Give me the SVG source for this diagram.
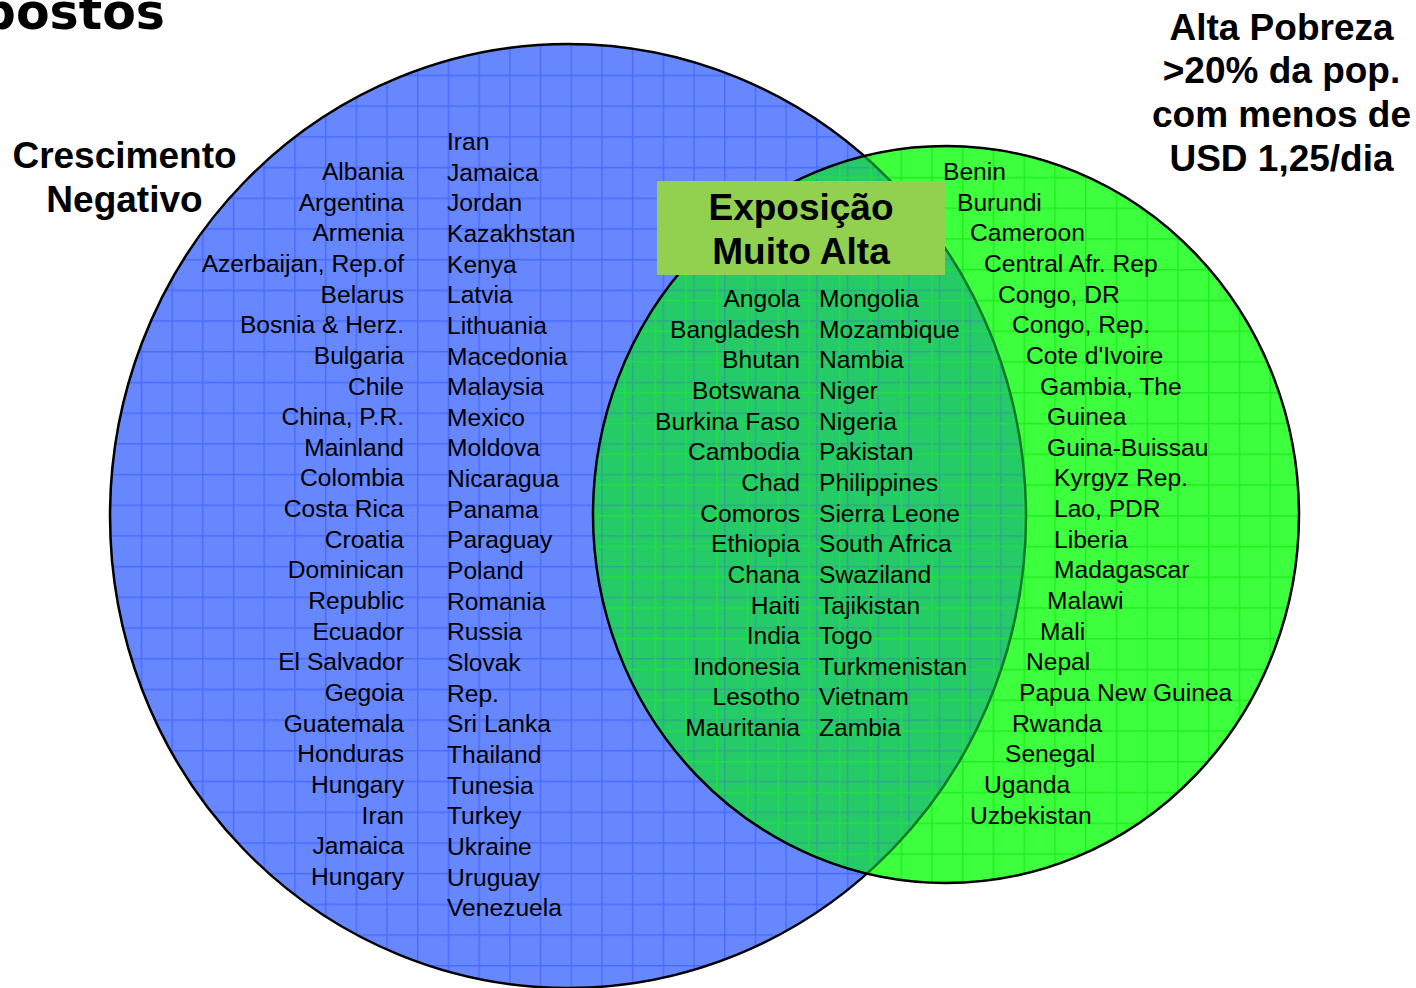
<svg xmlns="http://www.w3.org/2000/svg" width="1416" height="988" viewBox="0 0 1416 988">
<style>
.c{font-family:"Liberation Sans",Arial,sans-serif;font-size:24.6px;fill:#000}
.t{font-family:"Liberation Sans",Arial,sans-serif;font-size:37px;font-weight:bold;fill:#000;text-anchor:middle}
.e{text-anchor:end}
</style>
<defs>
<pattern id="gridB" patternUnits="userSpaceOnUse" x="110" y="44" width="30.7" height="30.7">
<rect width="30.7" height="30.7" fill="#6787FF"/>
<path d="M0 0.7H30.7M0.7 0V30.7" stroke="#4A6BFF" stroke-width="1.5"/>
</pattern>
<pattern id="gridG" patternUnits="userSpaceOnUse" x="593" y="146" width="30.75" height="30.75">
<rect width="30.75" height="30.75" fill="#3DFF3D"/>
<path d="M0 0.7H30.75M0.7 0V30.75" stroke="#1EEE1E" stroke-width="1.5"/>
</pattern>
<pattern id="linesBi" patternUnits="userSpaceOnUse" x="110" y="44" width="30.7" height="30.7">
<path d="M0 0.7H30.7M0.7 0V30.7" stroke="#2FA88A" stroke-width="1.5"/>
</pattern>
<pattern id="linesGi" patternUnits="userSpaceOnUse" x="593" y="146" width="30.75" height="30.75">
<path d="M0 0.7H30.75M0.7 0V30.75" stroke="#22E040" stroke-width="1.5"/>
</pattern>
<clipPath id="clipBlue"><ellipse cx="568" cy="516" rx="458" ry="472"/></clipPath>
<clipPath id="clipGreen"><ellipse cx="946" cy="514.5" rx="353" ry="368.5"/></clipPath>
</defs>
<rect width="1416" height="988" fill="#fff"/>
<text x="165" y="29" style="font-family:'DejaVu Sans',Verdana,sans-serif;font-weight:bold;font-size:49px" text-anchor="end">postos</text>
<g id="set-crescimento-negativo">
<ellipse cx="568" cy="516" rx="458" ry="472" fill="url(#gridB)" stroke="#000" stroke-width="2.5"/>
</g>
<g id="set-alta-pobreza">
<ellipse cx="946" cy="514.5" rx="353" ry="368.5" fill="url(#gridG)"/>
</g>
<g id="intersection">
<g clip-path="url(#clipBlue)">
<ellipse cx="946" cy="514.5" rx="353" ry="368.5" fill="#25CB66"/>
<ellipse cx="946" cy="514.5" rx="353" ry="368.5" fill="url(#linesBi)"/>
<ellipse cx="946" cy="514.5" rx="353" ry="368.5" fill="url(#linesGi)"/>
</g>
<g clip-path="url(#clipGreen)">
<ellipse cx="568" cy="516" rx="458" ry="472" fill="none" stroke="#0E7A22" stroke-width="2.5"/>
</g>
<ellipse cx="946" cy="514.5" rx="353" ry="368.5" fill="none" stroke="#000" stroke-width="2.5"/>
</g>
<g id="label-crescimento">
<text class="t" x="124.5" y="168">Crescimento</text>
<text class="t" x="124.5" y="212">Negativo</text>
</g>
<g id="label-pobreza">
<text class="t" x="1281.5" y="39.5">Alta Pobreza</text>
<text class="t" x="1281.5" y="83.2">&gt;20% da pop.</text>
<text class="t" x="1281.5" y="126.9">com menos de</text>
<text class="t" x="1281.5" y="170.6">USD 1,25/dia</text>
</g>
<g id="list-negativo-left">
<text class="c e" x="404" y="180"><tspan x="404">Albania</tspan><tspan x="404" dy="30.65">Argentina</tspan><tspan x="404" dy="30.65">Armenia</tspan><tspan x="404" dy="30.65">Azerbaijan, Rep.of</tspan><tspan x="404" dy="30.65">Belarus</tspan><tspan x="404" dy="30.65">Bosnia &amp; Herz.</tspan><tspan x="404" dy="30.65">Bulgaria</tspan><tspan x="404" dy="30.65">Chile</tspan><tspan x="404" dy="30.65">China, P.R.</tspan><tspan x="404" dy="30.65">Mainland</tspan><tspan x="404" dy="30.65">Colombia</tspan><tspan x="404" dy="30.65">Costa Rica</tspan><tspan x="404" dy="30.65">Croatia</tspan><tspan x="404" dy="30.65">Dominican</tspan><tspan x="404" dy="30.65">Republic</tspan><tspan x="404" dy="30.65">Ecuador</tspan><tspan x="404" dy="30.65">El Salvador</tspan><tspan x="404" dy="30.65">Gegoia</tspan><tspan x="404" dy="30.65">Guatemala</tspan><tspan x="404" dy="30.65">Honduras</tspan><tspan x="404" dy="30.65">Hungary</tspan><tspan x="404" dy="30.65">Iran</tspan><tspan x="404" dy="30.65">Jamaica</tspan><tspan x="404" dy="30.65">Hungary</tspan></text>
</g>
<g id="list-negativo-right">
<text class="c" x="447" y="150"><tspan x="447">Iran</tspan><tspan x="447" dy="30.65">Jamaica</tspan><tspan x="447" dy="30.65">Jordan</tspan><tspan x="447" dy="30.65">Kazakhstan</tspan><tspan x="447" dy="30.65">Kenya</tspan><tspan x="447" dy="30.65">Latvia</tspan><tspan x="447" dy="30.65">Lithuania</tspan><tspan x="447" dy="30.65">Macedonia</tspan><tspan x="447" dy="30.65">Malaysia</tspan><tspan x="447" dy="30.65">Mexico</tspan><tspan x="447" dy="30.65">Moldova</tspan><tspan x="447" dy="30.65">Nicaragua</tspan><tspan x="447" dy="30.65">Panama</tspan><tspan x="447" dy="30.65">Paraguay</tspan><tspan x="447" dy="30.65">Poland</tspan><tspan x="447" dy="30.65">Romania</tspan><tspan x="447" dy="30.65">Russia</tspan><tspan x="447" dy="30.65">Slovak</tspan><tspan x="447" dy="30.65">Rep.</tspan><tspan x="447" dy="30.65">Sri Lanka</tspan><tspan x="447" dy="30.65">Thailand</tspan><tspan x="447" dy="30.65">Tunesia</tspan><tspan x="447" dy="30.65">Turkey</tspan><tspan x="447" dy="30.65">Ukraine</tspan><tspan x="447" dy="30.65">Uruguay</tspan><tspan x="447" dy="30.65">Venezuela</tspan></text>
</g>
<g id="list-intersection-left">
<text class="c e" x="800" y="307"><tspan x="800">Angola</tspan><tspan x="800" dy="30.65">Bangladesh</tspan><tspan x="800" dy="30.65">Bhutan</tspan><tspan x="800" dy="30.65">Botswana</tspan><tspan x="800" dy="30.65">Burkina Faso</tspan><tspan x="800" dy="30.65">Cambodia</tspan><tspan x="800" dy="30.65">Chad</tspan><tspan x="800" dy="30.65">Comoros</tspan><tspan x="800" dy="30.65">Ethiopia</tspan><tspan x="800" dy="30.65">Chana</tspan><tspan x="800" dy="30.65">Haiti</tspan><tspan x="800" dy="30.65">India</tspan><tspan x="800" dy="30.65">Indonesia</tspan><tspan x="800" dy="30.65">Lesotho</tspan><tspan x="800" dy="30.65">Mauritania</tspan></text>
</g>
<g id="list-intersection-right">
<text class="c" x="819" y="307"><tspan x="819">Mongolia</tspan><tspan x="819" dy="30.65">Mozambique</tspan><tspan x="819" dy="30.65">Nambia</tspan><tspan x="819" dy="30.65">Niger</tspan><tspan x="819" dy="30.65">Nigeria</tspan><tspan x="819" dy="30.65">Pakistan</tspan><tspan x="819" dy="30.65">Philippines</tspan><tspan x="819" dy="30.65">Sierra Leone</tspan><tspan x="819" dy="30.65">South Africa</tspan><tspan x="819" dy="30.65">Swaziland</tspan><tspan x="819" dy="30.65">Tajikistan</tspan><tspan x="819" dy="30.65">Togo</tspan><tspan x="819" dy="30.65">Turkmenistan</tspan><tspan x="819" dy="30.65">Vietnam</tspan><tspan x="819" dy="30.65">Zambia</tspan></text>
</g>
<g id="list-pobreza">
<text class="c" x="943" y="180"><tspan x="943">Benin</tspan><tspan x="957" dy="30.65">Burundi</tspan><tspan x="970" dy="30.65">Cameroon</tspan><tspan x="984" dy="30.65">Central Afr. Rep</tspan><tspan x="998" dy="30.65">Congo, DR</tspan><tspan x="1012" dy="30.65">Congo, Rep.</tspan><tspan x="1026" dy="30.65">Cote d'Ivoire</tspan><tspan x="1040" dy="30.65">Gambia, The</tspan><tspan x="1047" dy="30.65">Guinea</tspan><tspan x="1047" dy="30.65">Guina-Buissau</tspan><tspan x="1054" dy="30.65">Kyrgyz Rep.</tspan><tspan x="1054" dy="30.65">Lao, PDR</tspan><tspan x="1054" dy="30.65">Liberia</tspan><tspan x="1054" dy="30.65">Madagascar</tspan><tspan x="1047" dy="30.65">Malawi</tspan><tspan x="1040" dy="30.65">Mali</tspan><tspan x="1026" dy="30.65">Nepal</tspan><tspan x="1019" dy="30.65">Papua New Guinea</tspan><tspan x="1012" dy="30.65">Rwanda</tspan><tspan x="1005" dy="30.65">Senegal</tspan><tspan x="984" dy="30.65">Uganda</tspan><tspan x="970" dy="30.65">Uzbekistan</tspan></text>
</g>
<g id="box-exposicao">
<rect x="657" y="181" width="288" height="94" fill="#92D050"/>
<text class="t" x="801" y="220">Exposição</text>
<text class="t" x="801" y="264">Muito Alta</text>
</g>
</svg>
